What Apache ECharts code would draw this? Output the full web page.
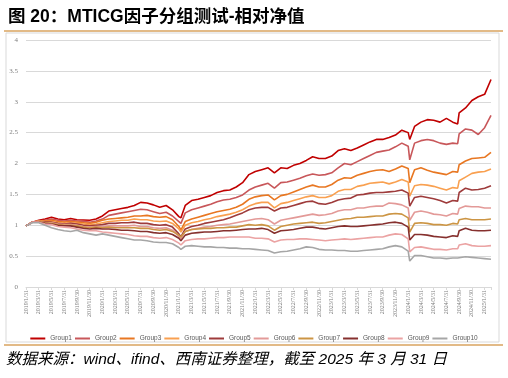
<!DOCTYPE html>
<html><head><meta charset="utf-8">
<script src="https://cdn.jsdelivr.net/npm/echarts@6/dist/echarts.min.js"></script>
<style>html,body{margin:0;padding:0;background:#fff}#c{width:508px;height:378px}</style>
</head><body><div id="c"></div><script>
const titleText = '图 20：MTICG因子分组测试-相对净值';
const footerText = '数据来源：wind、ifind、西南证券整理，截至 2025 年 3 月 31 日';
const groupNames = ['Group1','Group2','Group3','Group4','Group5','Group6','Group7','Group8','Group9','Group10'];
const groupColors = ['#C00000','#C8575A','#E87722','#F9A050','#9E3B3B','#E39A98','#CC9544','#86302E','#EBA3A3','#A6A6A6'];
const dates = [
'2019/1/31','2019/2/28','2019/3/31','2019/4/30','2019/5/31','2019/6/30','2019/7/31','2019/8/31','2019/9/30','2019/10/31','2019/11/30','2019/12/31',
'2020/1/31','2020/2/29','2020/3/31','2020/4/30','2020/5/31','2020/6/30','2020/7/31','2020/8/31','2020/9/30','2020/10/31','2020/11/30','2020/12/31',
'2021/1/31','2021/2/9','2021/2/28','2021/3/31','2021/4/30','2021/5/31','2021/6/30','2021/7/31','2021/8/31','2021/9/30','2021/10/31','2021/11/30','2021/12/31',
'2022/1/31','2022/2/28','2022/3/31','2022/4/30','2022/5/31','2022/6/30','2022/7/31','2022/8/31','2022/9/30','2022/10/31','2022/11/30','2022/12/31',
'2023/1/31','2023/2/28','2023/3/31','2023/4/30','2023/5/31','2023/6/30','2023/7/31','2023/8/31','2023/9/30','2023/10/31','2023/11/30','2023/12/31',
'2024/1/31','2024/2/7','2024/2/29','2024/3/31','2024/4/30','2024/5/31','2024/6/30','2024/7/31','2024/8/31','2024/9/23','2024/9/30','2024/10/31','2024/11/30','2024/12/31',
'2025/1/31','2025/2/28'];
const group1 = [
0.99,1.05,1.08,1.10,1.13,1.10,1.09,1.11,1.09,1.085,1.08,1.10,
1.15,1.23,1.25,1.27,1.29,1.32,1.37,1.36,1.33,1.29,1.32,1.25,
1.14,1.12,1.32,1.40,1.42,1.45,1.48,1.53,1.56,1.57,1.62,1.69,1.82,
1.87,1.90,1.93,1.85,1.93,1.92,1.97,2.00,2.05,2.11,2.08,2.08,
2.12,2.21,2.24,2.21,2.25,2.30,2.35,2.39,2.39,2.42,2.46,2.54,
2.50,2.39,2.60,2.67,2.71,2.70,2.67,2.73,2.67,2.64,2.82,2.90,3.02,3.08,
3.12,3.36];
const group2 = [
0.99,1.05,1.07,1.08,1.10,1.08,1.07,1.08,1.07,1.06,1.05,1.07,
1.10,1.16,1.18,1.20,1.22,1.24,1.26,1.25,1.22,1.19,1.21,1.15,
1.06,1.03,1.20,1.25,1.28,1.31,1.34,1.38,1.41,1.42,1.45,1.49,1.57,
1.62,1.65,1.68,1.60,1.69,1.70,1.73,1.76,1.80,1.83,1.81,1.82,
1.85,1.93,2.00,1.98,2.03,2.08,2.13,2.18,2.20,2.22,2.27,2.33,
2.28,2.06,2.33,2.37,2.39,2.37,2.33,2.31,2.33,2.32,2.48,2.56,2.54,2.47,
2.58,2.78];
const group3 = [
0.99,1.05,1.07,1.07,1.08,1.06,1.05,1.06,1.05,1.04,1.03,1.05,
1.08,1.10,1.11,1.12,1.13,1.15,1.15,1.16,1.14,1.13,1.14,1.09,
0.98,0.92,1.06,1.10,1.13,1.16,1.19,1.22,1.24,1.26,1.29,1.34,1.42,
1.46,1.48,1.49,1.41,1.48,1.50,1.54,1.58,1.62,1.65,1.62,1.62,
1.66,1.73,1.77,1.76,1.81,1.84,1.87,1.89,1.90,1.87,1.91,1.96,
1.92,1.69,1.90,1.93,1.89,1.86,1.84,1.82,1.87,1.86,1.98,2.04,2.08,2.09,
2.10,2.18];
const group4 = [
0.99,1.05,1.07,1.06,1.06,1.04,1.03,1.04,1.03,1.02,1.01,1.02,
1.04,1.06,1.07,1.08,1.08,1.10,1.09,1.09,1.07,1.06,1.07,1.03,
0.94,0.89,1.00,1.04,1.06,1.09,1.11,1.14,1.16,1.18,1.21,1.25,1.31,
1.35,1.37,1.37,1.28,1.35,1.37,1.40,1.43,1.46,1.48,1.45,1.45,
1.48,1.55,1.58,1.58,1.63,1.65,1.68,1.69,1.70,1.67,1.70,1.74,
1.70,1.47,1.64,1.66,1.65,1.63,1.60,1.57,1.61,1.60,1.72,1.78,1.84,1.86,
1.87,1.91];
const group5 = [
0.99,1.05,1.06,1.05,1.05,1.03,1.02,1.03,1.02,1.00,0.99,1.00,
1.01,1.03,1.03,1.04,1.04,1.05,1.03,1.03,1.01,1.00,1.01,0.97,
0.86,0.81,0.94,0.98,1.00,1.03,1.05,1.07,1.09,1.12,1.16,1.20,1.25,
1.28,1.29,1.29,1.23,1.28,1.29,1.32,1.35,1.38,1.39,1.35,1.34,
1.37,1.41,1.43,1.44,1.49,1.50,1.52,1.53,1.53,1.54,1.55,1.57,
1.52,1.31,1.45,1.47,1.45,1.43,1.40,1.36,1.40,1.39,1.53,1.60,1.57,1.58,
1.60,1.64];
const group6 = [
0.99,1.05,1.06,1.04,1.04,1.02,1.01,1.01,1.00,0.98,0.97,0.98,
0.98,0.99,0.99,0.99,0.99,1.00,0.98,0.98,0.96,0.95,0.96,0.92,
0.82,0.78,0.90,0.93,0.95,0.97,0.98,1.00,1.01,1.02,1.04,1.06,1.08,
1.10,1.11,1.09,1.02,1.08,1.10,1.12,1.14,1.16,1.18,1.16,1.17,
1.19,1.23,1.25,1.25,1.28,1.28,1.30,1.31,1.31,1.36,1.35,1.33,
1.28,1.08,1.21,1.23,1.21,1.18,1.17,1.15,1.19,1.18,1.27,1.31,1.30,1.30,
1.28,1.28];
const group7 = [
0.99,1.05,1.06,1.04,1.03,1.01,1.00,1.00,0.99,0.97,0.96,0.97,
0.96,0.97,0.96,0.96,0.96,0.96,0.95,0.95,0.93,0.92,0.93,0.90,
0.84,0.81,0.90,0.93,0.94,0.95,0.95,0.96,0.96,0.97,0.97,0.99,1.01,
1.00,1.01,0.99,0.92,0.98,1.00,1.02,1.03,1.04,1.05,1.03,1.04,
1.06,1.08,1.10,1.11,1.13,1.13,1.14,1.15,1.15,1.18,1.19,1.18,
1.12,0.89,1.03,1.04,1.03,1.01,1.01,1.00,1.03,1.02,1.09,1.11,1.09,1.09,
1.09,1.10];
const group8 = [
0.99,1.05,1.05,1.03,1.02,1.00,0.99,0.99,0.97,0.95,0.94,0.95,
0.94,0.94,0.93,0.92,0.92,0.91,0.90,0.90,0.88,0.87,0.88,0.85,
0.79,0.75,0.84,0.87,0.88,0.89,0.89,0.90,0.91,0.91,0.92,0.93,0.94,
0.94,0.95,0.93,0.87,0.91,0.92,0.93,0.95,0.97,0.97,0.95,0.94,
0.96,0.98,0.99,0.98,0.98,0.99,1.00,1.01,1.02,1.04,1.05,1.03,
0.97,0.76,0.85,0.85,0.84,0.82,0.81,0.80,0.83,0.82,0.91,0.95,0.92,0.91,
0.91,0.92];
const group9 = [
0.99,1.05,1.05,1.02,1.01,0.98,0.97,0.96,0.94,0.92,0.91,0.91,
0.89,0.88,0.87,0.86,0.85,0.83,0.82,0.82,0.80,0.79,0.80,0.77,
0.71,0.68,0.75,0.77,0.78,0.78,0.79,0.80,0.80,0.81,0.81,0.81,0.81,
0.79,0.79,0.78,0.73,0.76,0.77,0.77,0.78,0.78,0.77,0.76,0.75,
0.76,0.77,0.78,0.77,0.78,0.79,0.80,0.81,0.81,0.84,0.86,0.85,
0.78,0.57,0.64,0.65,0.63,0.61,0.61,0.60,0.62,0.62,0.68,0.70,0.67,0.66,
0.66,0.67];
const group10 = [
0.99,1.04,1.04,1.00,0.96,0.93,0.91,0.90,0.92,0.88,0.86,0.84,
0.86,0.84,0.82,0.80,0.78,0.76,0.76,0.75,0.73,0.72,0.72,0.70,
0.64,0.61,0.66,0.67,0.66,0.65,0.65,0.64,0.64,0.63,0.63,0.62,0.62,
0.61,0.60,0.59,0.55,0.57,0.58,0.60,0.62,0.65,0.64,0.61,0.60,
0.60,0.59,0.59,0.58,0.58,0.59,0.60,0.61,0.62,0.65,0.67,0.65,
0.58,0.42,0.51,0.51,0.49,0.47,0.47,0.46,0.47,0.47,0.49,0.49,0.48,0.47,
0.46,0.45];
const groupValues = [group1,group2,group3,group4,group5,group6,group7,group8,group9,group10];

function monthIndex(s){const p=s.split('/').map(Number);const dim=new Date(p[0],p[1],0).getDate();return (p[0]-2019)*12+(p[1]-1)+p[2]/dim-1;}
function monthEndLabel(m){const y=2019+Math.floor(m/12);const mo=m%12+1;const d=new Date(y,mo,0).getDate();return y+'/'+mo+'/'+d;}
const xs = dates.map(monthIndex);

const chart = echarts.init(document.getElementById('c'), null, {renderer:'canvas'});
chart.setOption({
  animation:false,
  backgroundColor:'#fff',
  title:{text:titleText,left:3,top:3,textStyle:{fontSize:17.5,fontWeight:'bold',color:'#000',fontFamily:'"Liberation Sans","Noto Sans CJK SC",sans-serif'}},
  graphic:[
    {type:'line',shape:{x1:4,y1:31,x2:503,y2:31},style:{stroke:'#D9A35F',lineWidth:1.5},silent:true},
    {type:'rect',shape:{x:6,y:33,width:493,height:309},style:{stroke:'#D9D9D9',fill:null,lineWidth:1},silent:true},
    {type:'line',shape:{x1:4,y1:345,x2:503,y2:345},style:{stroke:'#D9A35F',lineWidth:1.5},silent:true},
    {type:'text',left:6,top:352,style:{text:footerText,font:'italic 15.5px "Liberation Sans","Noto Sans CJK SC",sans-serif',fill:'#000'},silent:true}
  ],
  legend:{data:groupNames,top:330,left:'center',icon:'rect',itemWidth:15,itemHeight:2,itemGap:3,
    textStyle:{fontSize:6.5,color:'#595959',fontFamily:'"Liberation Sans",sans-serif'}},
  grid:{left:26,top:40,width:465,height:247,containLabel:false},
  xAxis:{type:'value',min:0,max:73,interval:2,splitLine:{show:false},
    axisLine:{show:true,lineStyle:{color:'#D9D9D9'}},
    axisTick:{show:true,length:3,lineStyle:{color:'#D9D9D9'}},
    axisLabel:{rotate:90,fontSize:6,color:'#7F7F7F',margin:3,fontFamily:'"Liberation Serif",serif',
      formatter:function(v){return (Math.abs(v-Math.round(v))<1e-6 && Math.round(v)%2===0)?monthEndLabel(Math.round(v)):'';}}},
  yAxis:{type:'value',min:0,max:4,interval:0.5,
    axisLine:{show:false},axisTick:{show:false},
    splitLine:{lineStyle:{color:'#D9D9D9',width:1}},
    axisLabel:{fontSize:7,color:'#7F7F7F',margin:8,fontFamily:'"Liberation Serif",serif'}},
  series: groupNames.map((n,i)=>({name:n,type:'line',showSymbol:false,symbol:'none',
    lineStyle:{width:1.6,color:groupColors[i]},itemStyle:{color:groupColors[i]},
    data: xs.map((x,j)=>[x,groupValues[i][j]])}))
});
</script></body></html>
